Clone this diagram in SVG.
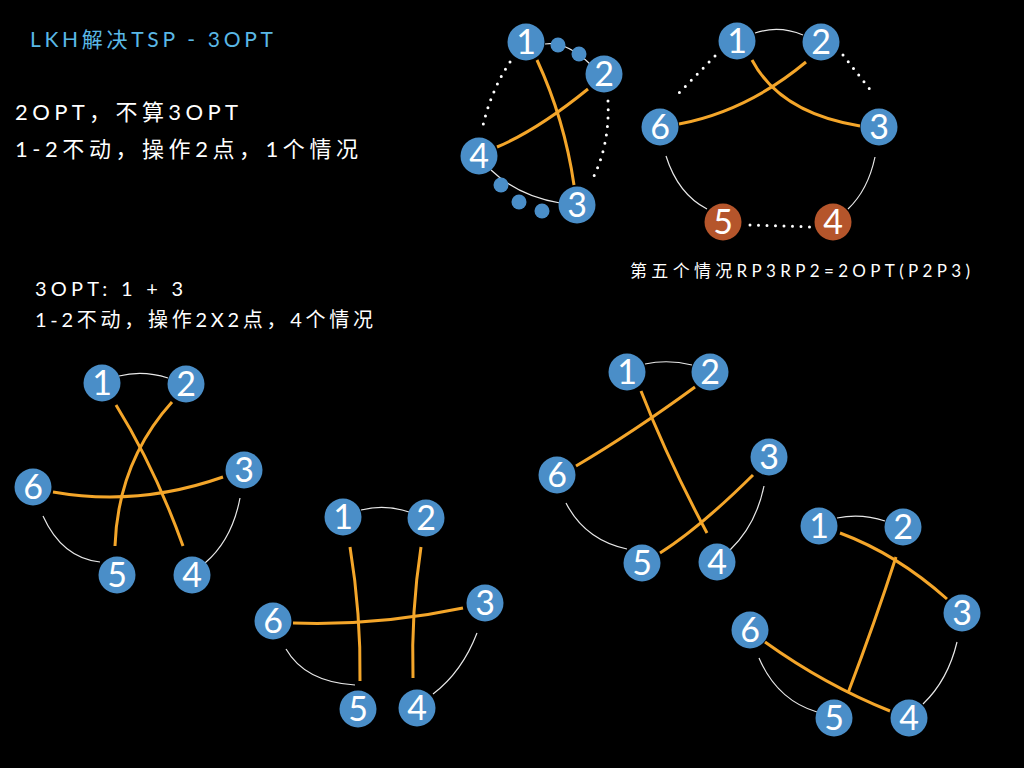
<svg xmlns="http://www.w3.org/2000/svg" width="1024" height="768" viewBox="0 0 1024 768">
<style>
.bg{fill:#000}
.n{fill:#4a8ec8}
.b{fill:#b5552b}
.d{fill:#4a8ec8}
.nt{fill:#fff;font-family:Lato,"Noto Sans",sans-serif;font-size:34px;text-anchor:middle}
.w{fill:none;stroke:#e8e8e8;stroke-width:1.2}
.dot{fill:none;stroke:#fff;stroke-width:3;stroke-linecap:round;stroke-dasharray:0 8.5}
.o{fill:none;stroke:#f4a62a;stroke-width:3;stroke-linecap:butt}
.t{fill:#fff;font-family:Lato,"Noto Sans","Noto Sans CJK SC",sans-serif}
.title{fill:#5ab8e6;font-family:Lato,"Noto Sans","Noto Sans CJK SC",sans-serif;font-size:21px}
</style>
<rect class="bg" x="0" y="0" width="1024" height="768"/>

<text class="title" x="30" y="47" textLength="243" lengthAdjust="spacing">LKH解决TSP - 3OPT</text>
<text class="t" x="15" y="120" font-size="22" textLength="223" lengthAdjust="spacing">2OPT，不算3OPT</text>
<text class="t" x="15" y="157" font-size="22" textLength="343" lengthAdjust="spacing">1-2不动，操作2点，1个情况</text>
<text class="t" x="35" y="296" font-size="20" textLength="148" lengthAdjust="spacing">3OPT: 1 + 3</text>
<text class="t" x="35" y="327" font-size="20" textLength="338" lengthAdjust="spacing">1-2不动，操作2X2点，4个情况</text>
<text class="t" x="630" y="277" font-size="17" textLength="340" lengthAdjust="spacing">第五个情况RP3RP2=2OPT(P2P3)</text>

<g id="connectors">
  <!-- top middle -->
  <path class="w" d="M545,44 Q566,41 590,64"/>
  <path class="w" d="M491,170 Q518,196 560,203"/>
  <path class="dot" d="M510,62 Q490,92 482,130"/>
  <path class="dot" d="M608,101 Q610,145 592,180"/>
  <path class="o" d="M537,60 Q564.5,119.5 574,185"/>
  <path class="o" d="M588,89 Q537.5,130 497,147"/>
  <!-- top right -->
  <path class="w" d="M755,33 Q779,25 803,35"/>
  <path class="dot" d="M715,56 L677,95"/>
  <path class="dot" d="M843,55 L872,92"/>
  <path class="w" d="M666,156 Q678,194 707,209"/>
  <path class="w" d="M875,157 Q868,190 848,209"/>
  <path class="dot" d="M750,225 L813,227"/>
  <path class="o" d="M752,60 Q780,113 860,126"/>
  <path class="o" d="M806,62 Q747,111 679,124"/>
  <!-- A -->
  <path class="w" d="M119,376 Q143,370 168,378"/>
  <path class="w" d="M43,516 Q62,558 100,562"/>
  <path class="w" d="M240,498 Q232,540 205,563"/>
  <path class="o" d="M116,405 Q155,468 183,546"/>
  <path class="o" d="M172,402 Q118,462 115,546"/>
  <path class="o" d="M53,492 Q138,507 223,477"/>
  <!-- B -->
  <path class="w" d="M361,510 Q385,504 409,512"/>
  <path class="w" d="M286,649 Q305,682 355,685"/>
  <path class="w" d="M477,633 Q462,672 433,694"/>
  <path class="o" d="M350,547 Q361,614 360,681"/>
  <path class="o" d="M421,547 Q411,612 413,678"/>
  <path class="o" d="M293,623 Q378,626 463,608"/>
  <!-- C -->
  <path class="w" d="M645,364 Q668,359 692,365"/>
  <path class="w" d="M566,503 Q585,540 627,549"/>
  <path class="w" d="M764,486 Q756,525 730,550"/>
  <path class="o" d="M641,391 Q668,460 707,533"/>
  <path class="o" d="M695,387 Q632,433 576,466"/>
  <path class="o" d="M753,475 Q699.5,528 660,553"/>
  <!-- D -->
  <path class="w" d="M837,518 Q861,513 885,521"/>
  <path class="w" d="M759,658 Q777,700 817,712"/>
  <path class="w" d="M957,642 Q948,680 923,704"/>
  <path class="o" d="M840,533 Q896.5,554 947,599"/>
  <path class="o" d="M896,557 Q875,622 848,693"/>
  <path class="o" d="M765,642 Q825,685 890,711"/>
</g>

<g id="tm-small">
  <circle class="d" cx="558" cy="45" r="7.5"/>
  <circle class="d" cx="579" cy="54" r="7.5"/>
  <circle class="d" cx="501" cy="185" r="7.5"/>
  <circle class="d" cx="519" cy="202" r="7.5"/>
  <circle class="d" cx="542" cy="211" r="7.5"/>
</g>
<g id="tm-n1"><circle class="n" cx="526" cy="42" r="18.5"/><text class="nt" x="526" y="54">1</text></g>
<g id="tm-n2"><circle class="n" cx="604" cy="74" r="18.5"/><text class="nt" x="604" y="86">2</text></g>
<g id="tm-n4"><circle class="n" cx="479" cy="156" r="18.5"/><text class="nt" x="479" y="168">4</text></g>
<g id="tm-n3"><circle class="n" cx="577" cy="205" r="18.5"/><text class="nt" x="577" y="217">3</text></g>

<g id="tr-n1"><circle class="n" cx="737" cy="41" r="18.5"/><text class="nt" x="737" y="53">1</text></g>
<g id="tr-n2"><circle class="n" cx="821" cy="42" r="18.5"/><text class="nt" x="821" y="54">2</text></g>
<g id="tr-n6"><circle class="n" cx="660" cy="127" r="18.5"/><text class="nt" x="660" y="139">6</text></g>
<g id="tr-n3"><circle class="n" cx="879" cy="127" r="18.5"/><text class="nt" x="879" y="139">3</text></g>
<g id="tr-n5"><circle class="b" cx="723" cy="222" r="18.5"/><text class="nt" x="723" y="234">5</text></g>
<g id="tr-n4"><circle class="b" cx="833" cy="222" r="18.5"/><text class="nt" x="833" y="234">4</text></g>

<g id="a-n1"><circle class="n" cx="102" cy="383" r="18.5"/><text class="nt" x="102" y="395">1</text></g>
<g id="a-n2"><circle class="n" cx="186" cy="384" r="18.5"/><text class="nt" x="186" y="396">2</text></g>
<g id="a-n3"><circle class="n" cx="244" cy="470" r="18.5"/><text class="nt" x="244" y="482">3</text></g>
<g id="a-n6"><circle class="n" cx="33" cy="487" r="18.5"/><text class="nt" x="33" y="499">6</text></g>
<g id="a-n5"><circle class="n" cx="117" cy="575" r="18.5"/><text class="nt" x="117" y="587">5</text></g>
<g id="a-n4"><circle class="n" cx="192" cy="575" r="18.5"/><text class="nt" x="192" y="587">4</text></g>

<g id="b-n1"><circle class="n" cx="343" cy="517" r="18.5"/><text class="nt" x="343" y="529">1</text></g>
<g id="b-n2"><circle class="n" cx="426" cy="518" r="18.5"/><text class="nt" x="426" y="530">2</text></g>
<g id="b-n3"><circle class="n" cx="485" cy="603" r="18.5"/><text class="nt" x="485" y="615">3</text></g>
<g id="b-n6"><circle class="n" cx="273" cy="621" r="18.5"/><text class="nt" x="273" y="633">6</text></g>
<g id="b-n5"><circle class="n" cx="358" cy="709" r="18.5"/><text class="nt" x="358" y="721">5</text></g>
<g id="b-n4"><circle class="n" cx="417" cy="708" r="18.5"/><text class="nt" x="417" y="720">4</text></g>

<g id="c-n1"><circle class="n" cx="627" cy="372" r="18.5"/><text class="nt" x="627" y="384">1</text></g>
<g id="c-n2"><circle class="n" cx="710" cy="372" r="18.5"/><text class="nt" x="710" y="384">2</text></g>
<g id="c-n3"><circle class="n" cx="769" cy="457" r="18.5"/><text class="nt" x="769" y="469">3</text></g>
<g id="c-n6"><circle class="n" cx="557" cy="475" r="18.5"/><text class="nt" x="557" y="487">6</text></g>
<g id="c-n5"><circle class="n" cx="642" cy="563" r="18.5"/><text class="nt" x="642" y="575">5</text></g>
<g id="c-n4"><circle class="n" cx="717" cy="562" r="18.5"/><text class="nt" x="717" y="574">4</text></g>

<g id="d-n1"><circle class="n" cx="819" cy="526" r="18.5"/><text class="nt" x="819" y="538">1</text></g>
<g id="d-n2"><circle class="n" cx="903" cy="527" r="18.5"/><text class="nt" x="903" y="539">2</text></g>
<g id="d-n3"><circle class="n" cx="962" cy="613" r="18.5"/><text class="nt" x="962" y="625">3</text></g>
<g id="d-n6"><circle class="n" cx="750" cy="630" r="18.5"/><text class="nt" x="750" y="642">6</text></g>
<g id="d-n5"><circle class="n" cx="834" cy="718" r="18.5"/><text class="nt" x="834" y="730">5</text></g>
<g id="d-n4"><circle class="n" cx="909" cy="718" r="18.5"/><text class="nt" x="909" y="730">4</text></g>
</svg>
